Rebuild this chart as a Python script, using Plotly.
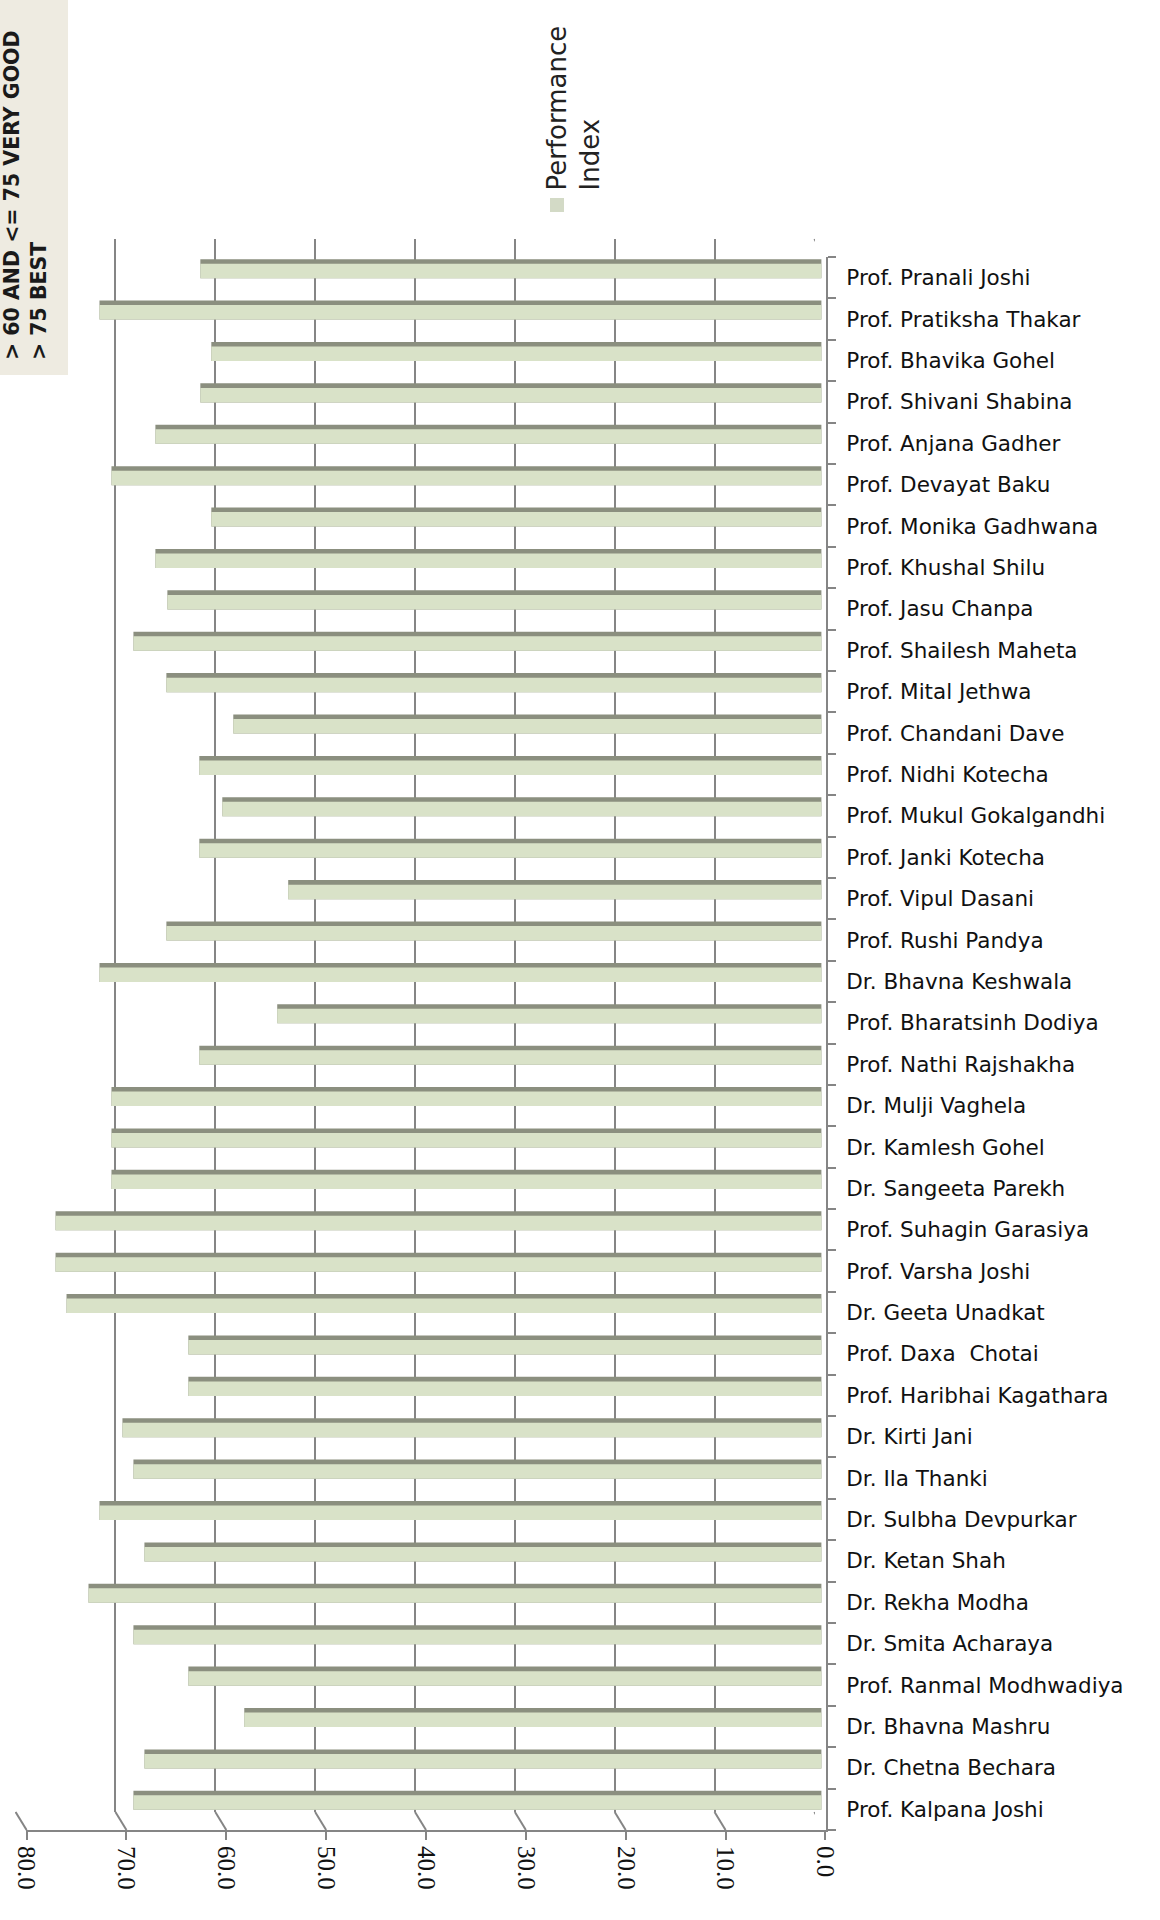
import plotly.graph_objects as go

# ---- data (first category = bottom of the chart) ----
names = [
    "Prof. Kalpana Joshi", "Dr. Chetna Bechara", "Dr. Bhavna Mashru", "Prof. Ranmal Modhwadiya",
    "Dr. Smita Acharaya", "Dr. Rekha Modha", "Dr. Ketan Shah", "Dr. Sulbha Devpurkar",
    "Dr. Ila Thanki", "Dr. Kirti Jani", "Prof. Haribhai Kagathara", "Prof. Daxa  Chotai",
    "Dr. Geeta Unadkat", "Prof. Varsha Joshi", "Prof. Suhagin Garasiya", "Dr. Sangeeta Parekh",
    "Dr. Kamlesh Gohel", "Dr. Mulji Vaghela", "Prof. Nathi Rajshakha", "Prof. Bharatsinh Dodiya",
    "Dr. Bhavna Keshwala", "Prof. Rushi Pandya", "Prof. Vipul Dasani", "Prof. Janki Kotecha",
    "Prof. Mukul Gokalgandhi", "Prof. Nidhi Kotecha", "Prof. Chandani Dave", "Prof. Mital Jethwa",
    "Prof. Shailesh Maheta", "Prof. Jasu Chanpa", "Prof. Khushal Shilu", "Prof. Monika Gadhwana",
    "Prof. Devayat Baku", "Prof. Anjana Gadher", "Prof. Shivani Shabina", "Prof. Bhavika Gohel",
    "Prof. Pratiksha Thakar", "Prof. Pranali Joshi",
]
performance_index = [
    68.9, 67.8, 57.8, 63.4,
    68.9, 73.4, 67.8, 72.3,
    68.9, 70.0, 63.4, 63.4,
    75.6, 76.7, 76.7, 71.1,
    71.1, 71.1, 62.3, 54.5,
    72.3, 65.6, 53.4, 62.3,
    60.0, 62.3, 58.9, 65.6,
    68.9, 65.5, 66.7, 61.1,
    71.1, 66.7, 62.2, 61.1,
    72.3, 62.2,
]
value_ticks = [0, 10, 20, 30, 40, 50, 60, 70, 80]
series_name = "Performance<br>Index"
note_lines = ["&gt; 60 AND &lt;= 75 VERY GOOD", "&gt; 75 BEST"]

# ---- geometry (pixels) ----
W, H = 1160, 1920
def px_x(p): return p / W
def px_y(p): return 1 - p / H

back = dict(x=(15, 815), y=(239, 1812))      # back wall (gridlines)
dx_mid, dy_mid = 7, 9                          # plane in which bars sit
dx_front, dy_front = 11, 18                    # front axes

def xdom(o): return [px_x(back["x"][0] + o), px_x(back["x"][1] + o)]
def ydom(o): return [px_y(back["y"][1] + o), px_y(back["y"][0] + o)]

GRID = "#858585"
LIGHT = "#d9e2c8"
DARK = "#8b8f7f"
ncat = len(names)
cat_range = [-0.5, ncat - 0.5]
val_range = [80.06, -0.06]

fig = go.Figure()

# bars (dark top face first, light front face over it)
fig.add_trace(go.Bar(x=performance_index, y=names, orientation="h", xaxis="x3", yaxis="y3",
                     width=0.46, offset=-0.23, marker=dict(color=DARK, line=dict(width=0)),
                     showlegend=False, hoverinfo="skip"))
fig.add_trace(go.Bar(x=performance_index, y=names, orientation="h", xaxis="x3", yaxis="y3",
                     width=0.35, offset=-0.23, marker=dict(color=LIGHT, line=dict(width=0)),
                     name="Performance Index", showlegend=False))
# invisible traces so the back-wall and front axes get drawn
fig.add_trace(go.Scatter(x=performance_index, y=names, mode="markers", marker=dict(opacity=0),
                         xaxis="x", yaxis="y", showlegend=False, hoverinfo="skip"))
fig.add_trace(go.Scatter(x=performance_index, y=names, mode="markers", marker=dict(opacity=0),
                         xaxis="x2", yaxis="y2", showlegend=False, hoverinfo="skip"))

cat_axis = dict(type="category", categoryorder="array", categoryarray=names, range=cat_range)

shapes = []
# beige note box (top-left)
shapes.append(dict(type="rect", xref="paper", yref="paper", x0=px_x(-10), x1=px_x(68),
                   y0=px_y(375), y1=px_y(-10), fillcolor="#eeebe1", line=dict(width=0), layer="below"))
# legend marker
shapes.append(dict(type="rect", xref="paper", yref="paper", x0=px_x(550), x1=px_x(564),
                   y0=px_y(212), y1=px_y(198), fillcolor="#d3dac6", line=dict(width=0)))
# slanted connectors between back wall gridlines and front value axis
for v in value_ticks:
    shapes.append(dict(type="line", xref="x", xsizemode="pixel", xanchor=v, x0=0, x1=dx_front,
                       yref="paper", y0=px_y(back["y"][1]), y1=px_y(back["y"][1] + dy_front),
                       line=dict(color=GRID, width=2)))
# top connector of the category axis
shapes.append(dict(type="line", xref="x", xsizemode="pixel", xanchor=0, x0=0, x1=dx_front,
                   yref="paper", y0=px_y(back["y"][0]), y1=px_y(back["y"][0] + dy_front),
                   line=dict(color=GRID, width=2)))

annotations = [
    dict(text=series_name, textangle=-90, align="left", showarrow=False,
         xref="paper", yref="paper", x=px_x(573), y=px_y(193), xanchor="center", yanchor="bottom",
         font=dict(family="DejaVu Sans", size=26, color="#222222")),
    dict(text="<b>" + "<br>".join(note_lines) + "</b>", textangle=-90, align="left", showarrow=False,
         xref="paper", yref="paper", x=px_x(26), y=px_y(362), xanchor="center", yanchor="bottom",
         font=dict(family="DejaVu Sans", size=20.5, color="#1a1a1a")),
]

fig.update_layout(
    width=W, height=H, autosize=False,
    margin=dict(l=0, r=0, t=0, b=0),
    paper_bgcolor="white", plot_bgcolor="rgba(0,0,0,0)",
    template="none",
    barmode="overlay",
    showlegend=False,
    xaxis=dict(domain=xdom(0), anchor="y", range=val_range, showgrid=True, gridcolor=GRID, gridwidth=2,
               tickvals=value_ticks, showticklabels=False, ticks="", showline=False, zeroline=False),
    yaxis=dict(domain=ydom(0), anchor="x", showticklabels=False, ticks="", showgrid=False,
               showline=False, zeroline=False, **cat_axis),
    xaxis3=dict(domain=xdom(dx_mid), anchor="y3", range=val_range, visible=False),
    yaxis3=dict(domain=ydom(dy_mid), anchor="x3", visible=False, **cat_axis),
    xaxis2=dict(domain=xdom(dx_front), anchor="y2", range=val_range, showgrid=False, zeroline=False,
                showline=True, linecolor=GRID, linewidth=2, ticks="outside", ticklen=8, tickwidth=2,
                tickcolor=GRID, tickvals=value_ticks, tickformat=".1f", tickangle=90,
                ticklabelstandoff=1,
                tickfont=dict(family="Liberation Serif", size=25, color="#111111")),
    yaxis2=dict(domain=ydom(dy_front), anchor="x2", side="right", showgrid=False, zeroline=False,
                showline=True, linecolor=GRID, linewidth=2, ticks="outside", ticklen=8, tickwidth=2,
                tickcolor=GRID, tickson="boundaries", ticklabelstandoff=14,
                tickfont=dict(family="DejaVu Sans", size=21.5, color="#111111"), **cat_axis),
    shapes=shapes,
    annotations=annotations,
)

fig.write_html("out.html", config={"displayModeBar": False},
               post_script="document.body.style.margin='0';")
